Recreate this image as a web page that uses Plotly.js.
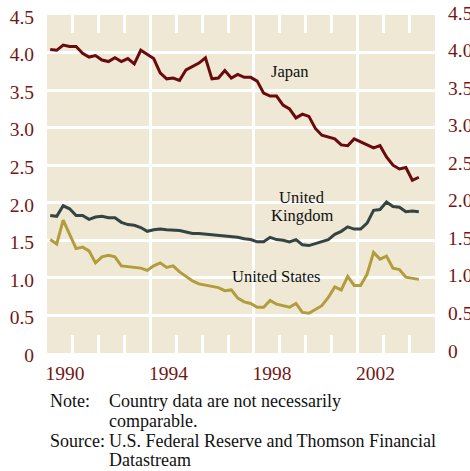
<!DOCTYPE html>
<html>
<head>
<meta charset="utf-8">
<script src="https://cdn.plot.ly/plotly-3.0.1.min.js"></script>
<style>
html,body{margin:0;padding:0;background:#fff;}
#chart{width:470px;height:471px;}
</style>
</head>
<body>
<div id="chart"></div>
<script>
// Quarterly observations, 1990Q1 - 2004Q2
const quarters = [
 '1990Q1','1990Q2','1990Q3','1990Q4','1991Q1','1991Q2','1991Q3','1991Q4',
 '1992Q1','1992Q2','1992Q3','1992Q4','1993Q1','1993Q2','1993Q3','1993Q4',
 '1994Q1','1994Q2','1994Q3','1994Q4','1995Q1','1995Q2','1995Q3','1995Q4',
 '1996Q1','1996Q2','1996Q3','1996Q4','1997Q1','1997Q2','1997Q3','1997Q4',
 '1998Q1','1998Q2','1998Q3','1998Q4','1999Q1','1999Q2','1999Q3','1999Q4',
 '2000Q1','2000Q2','2000Q3','2000Q4','2001Q1','2001Q2','2001Q3','2001Q4',
 '2002Q1','2002Q2','2002Q3','2002Q4','2003Q1','2003Q2','2003Q3','2003Q4',
 '2004Q1','2004Q2'
];
const japan = [
 4.04, 4.03, 4.10, 4.08, 4.08, 3.99, 3.94, 3.96, 3.90, 3.88,
 3.93, 3.88, 3.92, 3.85, 4.03, 3.97, 3.92, 3.73, 3.65, 3.66,
 3.63, 3.77, 3.81, 3.86, 3.93, 3.65, 3.66, 3.76, 3.66, 3.71,
 3.67, 3.67, 3.62, 3.46, 3.42, 3.42, 3.30, 3.25, 3.13, 3.18,
 3.15, 2.99, 2.90, 2.88, 2.85, 2.77, 2.76, 2.85, 2.81, 2.78,
 2.73, 2.76, 2.61, 2.50, 2.45, 2.47, 2.30, 2.34
];
const unitedKingdom = [
 1.83, 1.82, 1.96, 1.92, 1.83, 1.83, 1.78, 1.81, 1.82, 1.80,
 1.80, 1.74, 1.71, 1.70, 1.67, 1.62, 1.64, 1.65, 1.64, 1.64,
 1.63, 1.61, 1.59, 1.59, 1.58, 1.58, 1.57, 1.56, 1.55, 1.54,
 1.52, 1.51, 1.48, 1.48, 1.54, 1.51, 1.50, 1.48, 1.51, 1.44,
 1.43, 1.46, 1.49, 1.51, 1.58, 1.62, 1.68, 1.65, 1.65, 1.73,
 1.90, 1.91, 2.01, 1.95, 1.94, 1.88, 1.89, 1.88
];
const unitedStates = [
 1.51, 1.45, 1.77, 1.58, 1.39, 1.41, 1.36, 1.20, 1.28, 1.30,
 1.28, 1.16, 1.15, 1.15, 1.13, 1.10, 1.16, 1.20, 1.14, 1.16,
 1.08, 1.02, 0.96, 0.92, 0.90, 0.88, 0.87, 0.83, 0.84, 0.73,
 0.68, 0.66, 0.61, 0.61, 0.70, 0.65, 0.63, 0.61, 0.66, 0.54,
 0.53, 0.58, 0.63, 0.74, 0.88, 0.84, 1.02, 0.90, 0.90, 1.05,
 1.34, 1.25, 1.29, 1.13, 1.11, 1.01, 1.00, 0.98
];
const yTickVals = [0, 0.5, 1, 1.5, 2, 2.5, 3, 3.5, 4, 4.5];
const yTickText = ['0', '0.5', '1.0', '1.5', '2.0', '2.5', '3.0', '3.5', '4.0', '4.5'];
const xTickVals = [1990, 1994, 1998, 2002];
const xTickText = ['1990', '1994', '1998', '2002'];
const seriesLabels = ['Japan', 'United', 'Kingdom', 'United States'];
const noteLines = ['Note:', 'Country data are not necessarily', 'comparable.', 'Source:', 'U.S. Federal Reserve and Thomson Financial', 'Datastream'];

// convert "YYYYQn" to mid-quarter decimal year
const xq = quarters.map(s => parseInt(s.slice(0, 4), 10) + (parseInt(s.slice(5), 10) - 0.5) / 4);

const tickColor = '#741616';
const tickFont = {family: 'Liberation Serif', size: 19.5, color: tickColor};
const lblFont = {family: 'Liberation Serif', size: 16.5, color: '#111'};
const noteFont = {family: 'Liberation Serif', size: 18, color: '#111'};

const traces = [
  {x: xq, y: japan, type: 'scatter', mode: 'lines', line: {color: '#6a0a0c', width: 3}},
  {x: xq, y: unitedKingdom, type: 'scatter', mode: 'lines', line: {color: '#354443', width: 3}},
  {x: xq, y: unitedStates, type: 'scatter', mode: 'lines', line: {color: '#b39c3c', width: 3}}
];

function ann(x, y, xref, yref, text, font, anchor, yshift) {
  return {x: x, y: y, xref: xref, yref: yref, text: text, showarrow: false,
          font: Object.assign({}, font), xanchor: anchor, yanchor: 'middle', yshift: yshift || 0};
}
const annotations = [
  ann(1999.39, 3.75, 'x', 'y', seriesLabels[0], lblFont, 'center'),
  ann(1999.86, 2.07, 'x', 'y', seriesLabels[1], lblFont, 'center'),
  ann(1999.86, 1.83, 'x', 'y', seriesLabels[2], lblFont, 'center'),
  ann(1998.87, 1.02, 'x', 'y', seriesLabels[3], lblFont, 'center'),
  ann(0.0026, -0.142, 'paper', 'paper', noteLines[0], noteFont, 'left'),
  ann(0.1546, -0.142, 'paper', 'paper', noteLines[1], noteFont, 'left'),
  ann(0.1546, -0.201, 'paper', 'paper', noteLines[2], noteFont, 'left'),
  ann(0.0026, -0.260, 'paper', 'paper', noteLines[3], noteFont, 'left'),
  ann(0.1546, -0.260, 'paper', 'paper', noteLines[4], noteFont, 'left'),
  ann(0.1546, -0.317, 'paper', 'paper', noteLines[5], noteFont, 'left')
];
// right-hand value labels, placed on the y scale
yTickVals.forEach((v, i) => annotations.push(ann(1.029, v, 'paper', 'y', yTickText[i], tickFont, 'left', 2)));

const layout = {
  width: 470, height: 471,
  margin: {l: 47, r: 35, t: 15, b: 118, pad: 0},
  plot_bgcolor: '#eee8d5', showlegend: false,
  xaxis: {range: [1990, 2005], tickvals: xTickVals, ticktext: xTickText,
    showgrid: true, gridcolor: '#fff', gridwidth: 3, zeroline: false,
    ticks: 'inside', ticklen: 18, tickwidth: 3, tickcolor: '#fff',
    mirror: 'ticks', tickfont: tickFont, ticklabelshift: 18, ticklabelstandoff: 6,
    minor: {dtick: 1, tick0: 1990, ticks: 'inside', ticklen: 18, tickwidth: 3, tickcolor: '#fff', showgrid: false}},
  yaxis: {range: [0, 4.5], tickvals: yTickVals, ticktext: yTickText,
    showgrid: true, gridcolor: '#fff', gridwidth: 3, zeroline: false, ticks: '',
    tickfont: tickFont, ticklabelstandoff: 12, ticklabelshift: 2}
};

function fixFonts() {
  document.querySelectorAll('.xtick text, .ytick text').forEach(t => {
    t.style.fontFamily = '"Liberation Serif"';
    t.style.fontSize = '19.5px';
    t.style.fill = tickColor;
  });
}

Plotly.newPlot('chart', traces, layout, {displayModeBar: false, staticPlot: true})
  .then(gd => Plotly.relayout(gd, {annotations: annotations}))
  .then(gd => {
    const n = document.querySelectorAll('path.xtick.ticks').length;
    if (n < 10) {
      return Plotly.relayout(gd, {'xaxis.minor.ticks': 'inside', 'xaxis.ticks': 'inside', 'xaxis.mirror': 'ticks'});
    }
    return gd;
  })
  .then(fixFonts)
  .catch(fixFonts);
</script>
</body>
</html>
